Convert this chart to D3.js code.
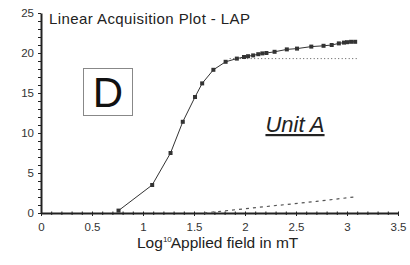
<!DOCTYPE html>
<html>
<head>
<meta charset="utf-8">
<script src="https://cdn.jsdelivr.net/npm/d3@7"></script>
<style>
  body { margin: 0; background: #fff; }
  svg { display: block; font-family: "Liberation Sans", Arial, sans-serif; }
</style>
</head>
<body>
<svg id="chart"></svg>
<script>
let width = 410;
let height = 265;

// LAP curve (log10 field, value)
const lapX = [0.76, 1.09, 1.27, 1.39, 1.51, 1.58, 1.69, 1.81, 1.92, 1.99, 2.03, 2.08, 2.13,
  2.17, 2.21, 2.29, 2.41, 2.51, 2.65, 2.77, 2.85, 2.92, 2.97, 3.0, 3.04, 3.08];
const lapY = [0.3, 3.5, 7.5, 11.4, 14.5, 16.2, 17.9, 18.9, 19.3, 19.5, 19.6, 19.7, 19.85,
  19.95, 20.0, 20.15, 20.45, 20.55, 20.8, 20.9, 21.0, 21.2, 21.3, 21.35, 21.4, 21.4];

// saturation level (dotted)
const satX = [1.85, 3.1];
const satY = [19.3, 19.3];

// high-coercivity trend (dashed)
const trendX = [1.6, 2.05, 2.7, 3.07];
const trendY = [0, 0.6, 1.45, 2.0];

const xMajor = [0, 0.5, 1, 1.5, 2, 2.5, 3, 3.5];
const yMajor = [0, 5, 10, 15, 20, 25];

let svg = d3.select('#chart')
  .attr('width', width)
  .attr('height', height);

svg.append('rect').attr('width', width).attr('height', height).attr('fill', '#fff');

let x = d3.scaleLinear().domain([0, 3.5]).range([41, 398]);
let y = d3.scaleLinear().domain([0, 25]).range([213, 13]);

// minor ticks
svg.append('g')
  .attr('transform', `translate(0,${y(0)})`)
  .call(d3.axisBottom(x).tickValues(d3.range(0, 36).map(i => i / 10)).tickSize(2).tickSizeOuter(0).tickFormat(''))
  .call(g => g.select('.domain').remove())
  .call(g => g.selectAll('.tick line').attr('y1', -1.5).attr('stroke', '#222'));

svg.append('g')
  .attr('transform', `translate(${x(0)},0)`)
  .call(d3.axisLeft(y).tickValues(d3.range(0, 26)).tickSize(3).tickSizeOuter(0).tickFormat(''))
  .call(g => g.select('.domain').remove())
  .call(g => g.selectAll('.tick line').attr('stroke', '#222'));

// major axes
svg.append('g')
  .attr('transform', `translate(0,${y(0)})`)
  .call(d3.axisBottom(x).tickValues(xMajor).tickSize(3).tickSizeOuter(0).tickPadding(7).tickFormat(d => d))
  .call(g => g.select('.domain').attr('stroke', '#222').attr('stroke-width', 2))
  .call(g => g.selectAll('.tick line').attr('stroke', '#222'))
  .call(g => g.selectAll('.tick text').attr('font-size', 11.5).attr('fill', '#333')
    .attr('font-family', '"Liberation Sans", Arial, sans-serif'));

svg.append('g')
  .attr('transform', `translate(${x(0)},0)`)
  .call(d3.axisLeft(y).tickValues(yMajor).tickSize(3).tickSizeOuter(0).tickPadding(4))
  .call(g => g.select('.domain').attr('stroke', '#222').attr('stroke-width', 2))
  .call(g => g.selectAll('.tick line').attr('stroke', '#222'))
  .call(g => g.selectAll('.tick text').attr('font-size', 11.5).attr('fill', '#333')
    .attr('font-family', '"Liberation Sans", Arial, sans-serif'));

let line = d3.line().x(d => x(d[0])).y(d => y(d[1]));

svg.append('path')
  .datum(d3.zip(trendX, trendY))
  .attr('d', line)
  .attr('fill', 'none')
  .attr('stroke', '#555')
  .attr('stroke-width', 1.2)
  .attr('stroke-dasharray', '3,4');

svg.append('path')
  .datum(d3.zip(satX, satY))
  .attr('d', line)
  .attr('fill', 'none')
  .attr('stroke', '#555')
  .attr('stroke-width', 1)
  .attr('stroke-dasharray', '1,2.5');

svg.append('path')
  .datum(d3.zip(lapX, lapY))
  .attr('d', line)
  .attr('fill', 'none')
  .attr('stroke', '#333')
  .attr('stroke-width', 1);

svg.append('g')
  .selectAll('rect')
  .data(d3.zip(lapX, lapY))
  .join('rect')
    .attr('x', d => x(d[0]) - 2)
    .attr('y', d => y(d[1]) - 2)
    .attr('width', 4)
    .attr('height', 4)
    .attr('fill', '#333');

// title
svg.append('text')
  .attr('x', 49)
  .attr('y', 24)
  .attr('font-size', 15)
  .attr('textLength', 201)
  .attr('fill', '#222')
  .text('Linear Acquisition Plot - LAP');

// panel letter
svg.append('rect')
  .attr('x', 83.5).attr('y', 68.5)
  .attr('width', 49).attr('height', 47)
  .attr('fill', 'none')
  .attr('stroke', '#888')
  .attr('stroke-width', 1);

svg.append('text')
  .attr('x', 108)
  .attr('y', 107)
  .attr('text-anchor', 'middle')
  .attr('font-size', 42)
  .attr('fill', '#111')
  .text('D');

svg.append('text')
  .attr('x', 295)
  .attr('y', 132)
  .attr('text-anchor', 'middle')
  .attr('font-size', 22)
  .attr('font-style', 'italic')
  .attr('text-decoration', 'underline')
  .attr('fill', '#222')
  .text('Unit A');

// x label
let xl = svg.append('text')
  .attr('x', 137)
  .attr('y', 248)
  .attr('font-size', 15.5)
  .attr('fill', '#222');
xl.append('tspan').text('Log');
xl.append('tspan').attr('font-size', 8).attr('dy', -6).text('10');
xl.append('tspan').attr('dy', 6).attr('dx', -1).text('Applied field in mT');
</script>
</body>
</html>
